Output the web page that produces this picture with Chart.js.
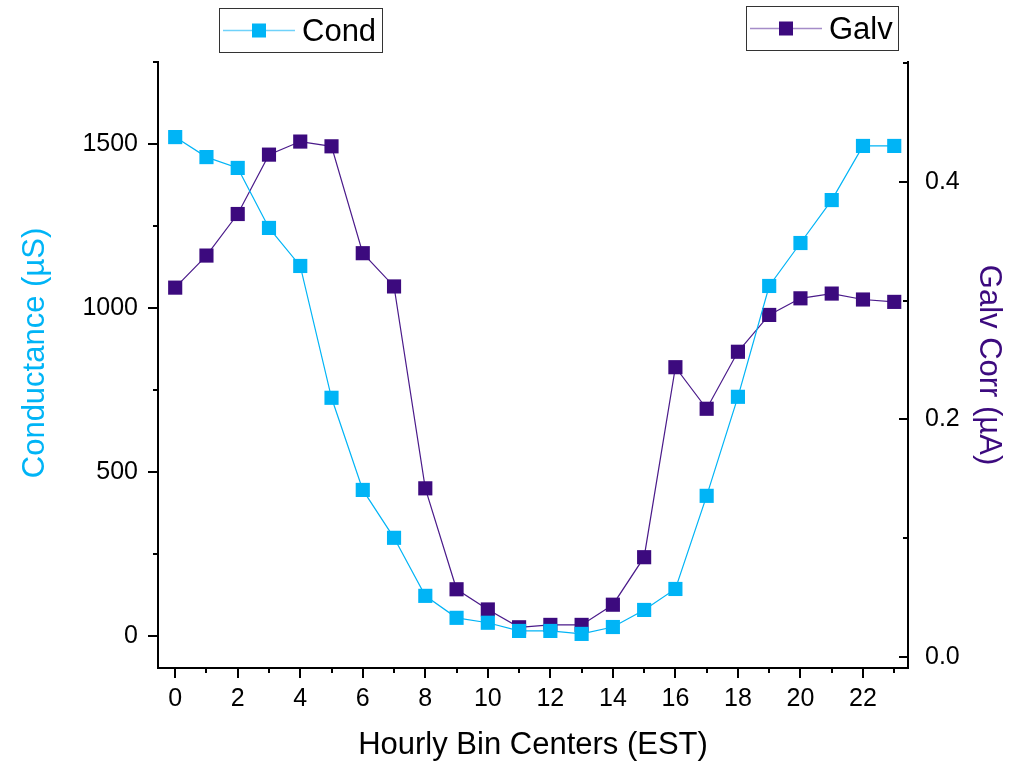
<!DOCTYPE html>
<html>
<head>
<meta charset="utf-8">
<script src="https://cdn.jsdelivr.net/npm/chart.js@4.4.1/dist/chart.umd.min.js"></script>
<style>
  html, body { margin: 0; padding: 0; background: #fff; }
  #wrap { width: 1021px; height: 764px; position: relative; }
</style>
</head>
<body>
<div id="wrap"><canvas id="chart" width="1021" height="764"></canvas></div>
<script>
// hourly bins (EST)
const hours = [0,1,2,3,4,5,6,7,8,9,10,11,12,13,14,15,16,17,18,19,20,21,22,23];
// conductance, uS (left axis)
const cond = [1521,1460,1427,1244,1128,726,445,299,122,55,40,15,15,6,27,79,143,427,729,1067,1198,1329,1494,1494];
// galvanic corrosion, uA (right axis)
const galv = [0.311,0.338,0.373,0.423,0.434,0.430,0.340,0.312,0.142,0.057,0.040,0.025,0.027,0.027,0.044,0.084,0.244,0.209,0.257,0.288,0.302,0.306,0.301,0.299];

// tick labels
const xTicks = [0,2,4,6,8,10,12,14,16,18,20,22];
const condTicks = [0,500,1000,1500];
const galvTicks = [0,0.2,0.4];

const condColor = '#00b4f6';
const galvColor = '#3c0a7e';
const galvLine = '#4a1a8a';
const fontFam = '"Liberation Sans", Arial, sans-serif';

// tick marks like the original (outward left/bottom, inward right)
const tickMarks = {
  id: 'tickMarks',
  afterDraw(chart) {
    const ctx = chart.ctx, a = chart.chartArea;
    const sx = chart.scales.x, yl = chart.scales.y, yr = chart.scales.y1;
    ctx.save();
    ctx.strokeStyle = '#000';
    ctx.lineWidth = 2;
    function seg(x1, y1, x2, y2) { ctx.beginPath(); ctx.moveTo(x1, y1); ctx.lineTo(x2, y2); ctx.stroke(); }
    hours.forEach(h => {
      const px = Math.round(sx.getPixelForValue(h));
      seg(px, a.bottom, px, a.bottom + (h % 2 === 0 ? 10 : 5));
    });
    for (let v = 0; v <= 1750; v += 250) {
      const py = Math.round(yl.getPixelForValue(v));
      seg(a.left, py, a.left - (v % 500 === 0 ? 10 : 5), py);
    }
    for (let i = 0; i <= 5; i++) {
      const py = Math.round(yr.getPixelForValue(i / 10));
      seg(a.right, py, a.right - (i % 2 === 0 ? 9 : 5), py);
    }
    // left axis title, sits a bit above the middle in the original
    ctx.save();
    ctx.translate(35, 353);
    ctx.rotate(-Math.PI / 2);
    ctx.fillStyle = condColor;
    ctx.font = '31px ' + fontFam;
    ctx.textAlign = 'center';
    ctx.textBaseline = 'middle';
    ctx.fillText('Conductance (\u00b5S)', 0, 0);
    ctx.restore();
    ctx.restore();
  }
};

// two separate boxed legends
const boxLegends = {
  id: 'boxLegends',
  afterDraw(chart) {
    const ctx = chart.ctx;
    function legend(x, y, w, h, label, lineCol, markCol) {
      ctx.save();
      ctx.fillStyle = '#fff';
      ctx.fillRect(x, y, w, h);
      ctx.strokeStyle = '#333';
      ctx.lineWidth = 1;
      ctx.strokeRect(x + 0.5, y + 0.5, w, h);
      const cy = y + h / 2 + 0.5;
      ctx.strokeStyle = lineCol;
      ctx.lineWidth = 1.3;
      ctx.beginPath(); ctx.moveTo(x + 4, cy); ctx.lineTo(x + 76, cy); ctx.stroke();
      ctx.fillStyle = markCol;
      ctx.fillRect(x + 33, cy - 7, 14, 14);
      ctx.fillStyle = '#000';
      ctx.font = '31px ' + fontFam;
      ctx.textBaseline = 'middle';
      ctx.fillText(label, x + 83, cy + 2);
      ctx.restore();
    }
    legend(219, 8, 163, 44, 'Cond', '#6fd2fa', condColor);
    legend(746, 6, 152, 44, 'Galv', '#a58cc8', galvColor);
  }
};

function fixTicks(list) {
  return function (s) { s.ticks = list.map(v => ({ value: v })); };
}

new Chart(document.getElementById('chart'), {
  type: 'line',
  data: {
    datasets: [
      {
        label: 'Cond',
        data: hours.map((h, i) => ({ x: h, y: cond[i] })),
        yAxisID: 'y',
        borderColor: condColor,
        backgroundColor: condColor,
        borderWidth: 1.2,
        pointStyle: 'rect',
        pointRadius: 10,
        pointBorderWidth: 0,
        tension: 0
      },
      {
        label: 'Galv',
        data: hours.map((h, i) => ({ x: h, y: galv[i] })),
        yAxisID: 'y1',
        borderColor: galvLine,
        backgroundColor: galvColor,
        borderWidth: 1.2,
        pointStyle: 'rect',
        pointRadius: 10,
        pointBorderWidth: 0,
        tension: 0
      }
    ]
  },
  options: {
    responsive: false,
    animation: false,
    layout: { padding: { top: 62, left: 0, right: 0, bottom: 0 } },
    plugins: {
      legend: { display: false },
      tooltip: { enabled: false }
    },
    scales: {
      x: {
        type: 'linear',
        min: -0.55,
        max: 23.44,
        grid: { display: false, drawTicks: false },
        border: { display: true, color: '#000', width: 2 },
        afterBuildTicks: fixTicks(xTicks),
        ticks: { color: '#000', padding: 16, maxRotation: 0, autoSkip: false, font: { family: fontFam, size: 25 }, callback: v => String(v) },
        title: { display: true, text: 'Hourly Bin Centers (EST)', color: '#000', font: { family: fontFam, size: 31 }, padding: { top: 0, bottom: 0 } },
        afterFit(s) { s.height = 96; }
      },
      y: {
        position: 'left',
        min: -98,
        max: 1750,
        grid: { display: false, drawTicks: false },
        border: { display: true, color: '#000', width: 2 },
        afterBuildTicks: fixTicks(condTicks),
        ticks: { color: '#000', padding: 20, autoSkip: false, font: { family: fontFam, size: 25 }, callback: v => String(v) },
        title: { display: false },
        afterFit(s) { s.width = 158; }
      },
      y1: {
        position: 'right',
        min: -0.0093,
        max: 0.501,
        grid: { display: false, drawTicks: false },
        border: { display: true, color: '#000', width: 2 },
        afterBuildTicks: fixTicks(galvTicks),
        ticks: { color: '#000', padding: 17, autoSkip: false, font: { family: fontFam, size: 25 }, callback: v => v.toFixed(1) },
        title: { display: true, text: 'Galv Corr (\u00b5A)', color: galvColor, font: { family: fontFam, size: 31 }, padding: { top: 14, bottom: 0 } },
        afterFit(s) { s.width = 113; }
      }
    }
  },
  plugins: [tickMarks, boxLegends]
});
</script>
</body>
</html>
